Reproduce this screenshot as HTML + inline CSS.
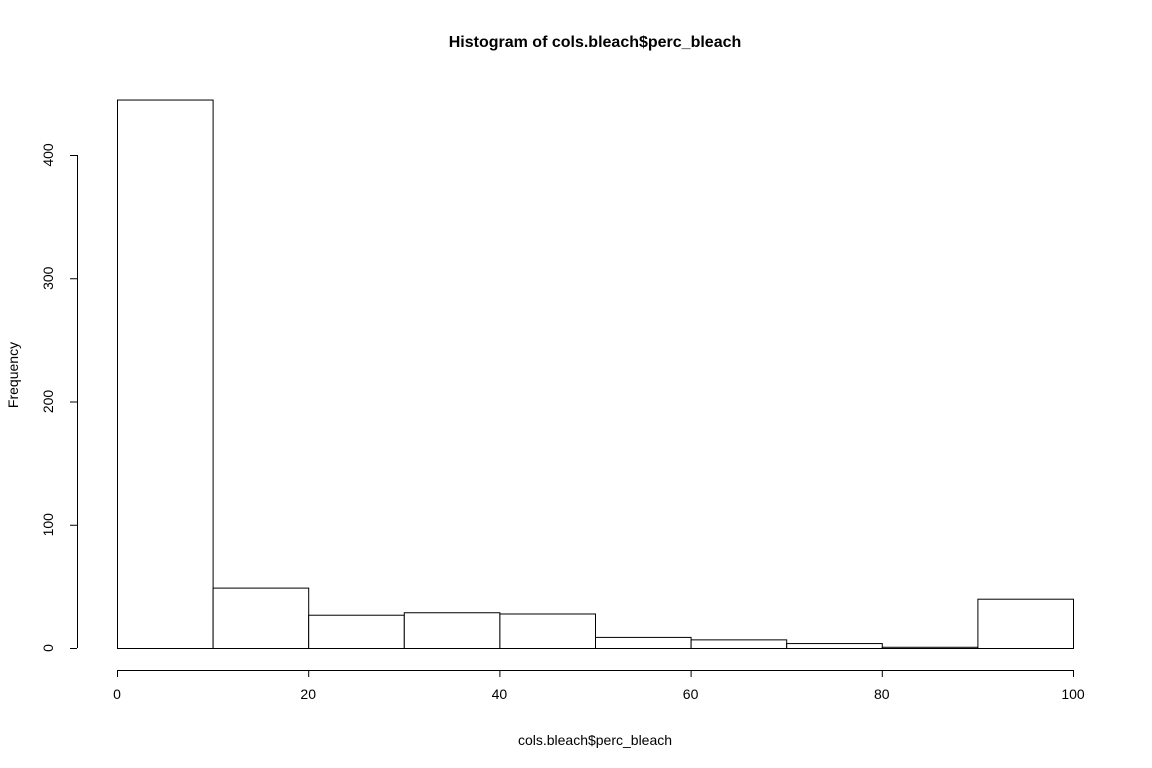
<!DOCTYPE html>
<html><head><meta charset="utf-8"><style>
body{margin:0;background:#fff;}
svg{display:block;font-family:"Liberation Sans",sans-serif;}
</style></head><body>
<svg id="chart" width="1152" height="768">
<text x="595" y="47" text-anchor="middle" font-weight="bold" font-size="16">Histogram of cols.bleach$perc_bleach</text>
<text x="595" y="745" text-anchor="middle" font-size="14">cols.bleach$perc_bleach</text>
<text transform="translate(18,375) rotate(-90)" text-anchor="middle" font-size="14">Frequency</text>
<g id="bars"></g><g id="xaxis"></g><g id="yaxis"></g>
</svg>
<script>
const breaks=[0,10,20,30,40,50,60,70,80,90,100];
const counts=[445,49,27,29,28,9,7,4,1,40];
const xTicks=[0,20,40,60,80,100];
const yTicks=[0,100,200,300,400];
const ns="http://www.w3.org/2000/svg";
const X=v=>117+v*9.56;
const Y=v=>648-v*1.2325;
function mk(t,a,p){const e=document.createElementNS(ns,t);for(const k in a)e.setAttribute(k,a[k]);p.appendChild(e);return e;}
const bars=document.getElementById('bars');
counts.forEach((c,i)=>{
 const r=mk('rect',{x:X(breaks[i])+0.5,y:Y(c)+0.5,width:X(breaks[i+1])-X(breaks[i]),height:Y(0)-Y(c),fill:'#fff',stroke:'#000','stroke-width':1},bars);
 
 
});
const xa=document.getElementById('xaxis');
mk('line',{x1:X(0),x2:X(100),y1:670.5,y2:670.5,stroke:'#000'},xa);
xTicks.forEach(t=>{
 mk('line',{x1:X(t)+0.5,x2:X(t)+0.5,y1:670,y2:677,stroke:'#000'},xa);
 const tx=mk('text',{x:X(t),y:699,'text-anchor':'middle','font-size':14},xa);tx.textContent=t;
 
 
});
const ya=document.getElementById('yaxis');
mk('line',{x1:77.5,x2:77.5,y1:Y(0),y2:Y(400),stroke:'#000'},ya);
yTicks.forEach(t=>{
 mk('line',{x1:70,x2:77,y1:Y(t)+0.5,y2:Y(t)+0.5,stroke:'#000'},ya);
 const tx=mk('text',{transform:`translate(53,${Y(t)}) rotate(-90)`,'text-anchor':'middle','font-size':14},ya);tx.textContent=t;
 
 
});
</script>
</body></html>
